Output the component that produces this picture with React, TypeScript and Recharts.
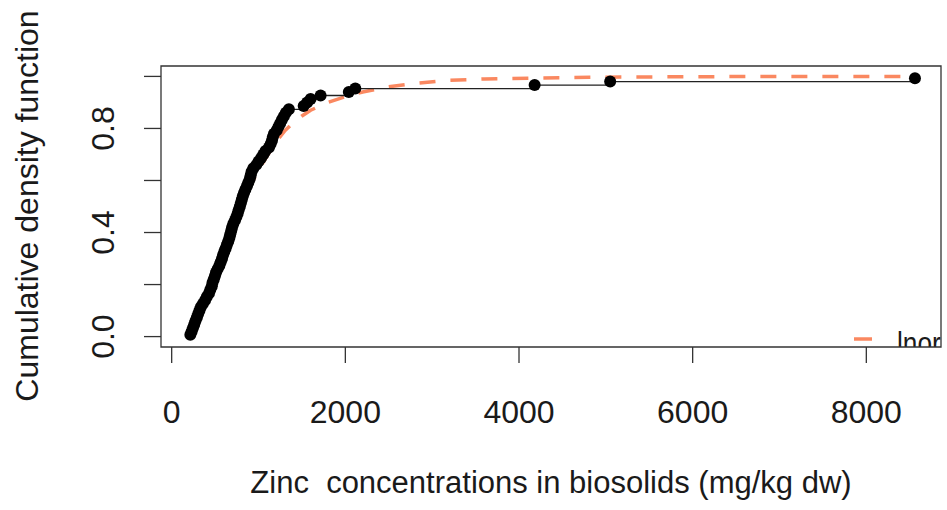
import { ComposedChart, Line, Scatter, XAxis, YAxis, ReferenceArea } from "recharts"

// observed zinc concentrations (mg/kg dw), sorted
const zinc = [
  215, 230, 245, 260, 274, 290, 305, 320, 336, 360,
  385, 405, 430, 445, 462, 470, 485, 498, 510, 530,
  550, 565, 580, 592, 607, 622, 636, 652, 665, 675,
  686, 696, 710, 728, 745, 760, 772, 785, 797, 808,
  820, 834, 850, 868, 884, 900, 910, 920, 940, 975,
  1000, 1030, 1055, 1080, 1120, 1140, 1155, 1165, 1178, 1210,
  1230, 1250, 1270, 1292, 1315, 1350, 1520, 1560, 1600, 1715,
  2040, 2115, 4180, 5050, 8560,
]

// fitted lnorm cdf
const lnormX = [213, 300, 400, 500, 600, 700, 800, 900, 1000, 1100, 1200, 1300, 1400, 1500, 1600, 1800, 2000, 2200, 2500, 2800, 3200, 3600, 4200, 5000, 6000, 7000, 8560]
const lnormY = [0.006, 0.075, 0.15, 0.235, 0.32, 0.415, 0.5, 0.575, 0.64, 0.695, 0.748, 0.79, 0.822, 0.848, 0.87, 0.9, 0.922, 0.94, 0.96, 0.973, 0.985, 0.99, 0.994, 0.997, 0.999, 0.9995, 1.0]

const xTicks = [0, 2000, 4000, 6000, 8000]
const yTicks = [0, 0.2, 0.4, 0.6, 0.8, 1.0]
const yLabelled = [0, 0.4, 0.8]

const FONT = "'Liberation Sans', Arial, sans-serif"
const TEXT = "#1a1a1a"
const FIT = "#FA8860"

// empirical cdf plotting positions (i - 0.5) / n
const ecdf = zinc.map((x, i) => ({ x, y: (i + 0.5) / zinc.length }))
const lnorm = lnormX.map((x, i) => ({ x, y: lnormY[i] }))

function XTick({ x, y, payload }: any) {
  return (
    <text x={x} y={y + 58} textAnchor="middle" fontFamily={FONT} fontSize={32} fill={TEXT}>
      {payload.value}
    </text>
  )
}

function YTick({ x, y, payload }: any) {
  if (!yLabelled.includes(payload.value)) return null
  const bx = x - 28
  return (
    <text x={bx} y={y} textAnchor="middle" fontFamily={FONT} fontSize={32} fill={TEXT} transform={`rotate(-90, ${bx}, ${y})`}>
      {payload.value.toFixed(1)}
    </text>
  )
}

const dot = (p: any) => <circle cx={p.cx} cy={p.cy} r={6} fill="#000" />

export default function App() {
  return (
    <div style={{ position: "absolute", left: 0, top: 0, width: 947, height: 510, background: "#fff" }}>
      <ComposedChart width={947} height={510} margin={{ top: 66, right: 6, bottom: 103, left: 0 }}>
        <defs>
          <clipPath id="plotClip">
            <rect x={161} y={66} width={780} height={281} />
          </clipPath>
        </defs>
        <XAxis
          type="number"
          dataKey="x"
          domain={[-123, 8860]}
          ticks={xTicks}
          allowDataOverflow
          height={60}
          axisLine={false}
          tickLine={{ stroke: "#333", strokeWidth: 1.3 }}
          tickSize={16}
          tick={<XTick />}
          interval={0}
        />
        <YAxis
          type="number"
          dataKey="y"
          domain={[-0.04, 1.04]}
          ticks={yTicks}
          allowDataOverflow
          width={161}
          axisLine={false}
          tickLine={{ stroke: "#333", strokeWidth: 1.3 }}
          tickSize={17}
          tick={<YTick />}
          interval={0}
        />
        <ReferenceArea x1={-123} x2={8860} y1={-0.04} y2={1.04} fill="none" stroke="#333" strokeWidth={1.3} ifOverflow="visible" />
        <Line data={lnorm} dataKey="y" type="linear" stroke={FIT} strokeWidth={3.5} strokeDasharray="16 15" dot={false} isAnimationActive={false} />
        <Line data={ecdf} dataKey="y" type="stepAfter" stroke="#222" strokeWidth={1.3} dot={false} isAnimationActive={false} />
        <Scatter data={ecdf} dataKey="y" shape={dot} isAnimationActive={false} />
        <g clipPath="url(#plotClip)">
          <line x1={854} x2={872} y1={339} y2={339} stroke={FIT} strokeWidth={3.5} />
          <text x={0} y={0} fontFamily={FONT} fontSize={32} fill={TEXT} transform="translate(897, 354) scale(0.82, 1)">lnorm</text>
        </g>
        <text x={551} y={493} textAnchor="middle" fontFamily={FONT} fontSize={31} fill={TEXT} style={{ whiteSpace: "pre" }}>
          Zinc  concentrations in biosolids (mg/kg dw)
        </text>
        <text x={38} y={206} textAnchor="middle" fontFamily={FONT} fontSize={32} fill={TEXT} transform="rotate(-90, 38, 206)">
          Cumulative density function
        </text>
      </ComposedChart>
    </div>
  )
}
